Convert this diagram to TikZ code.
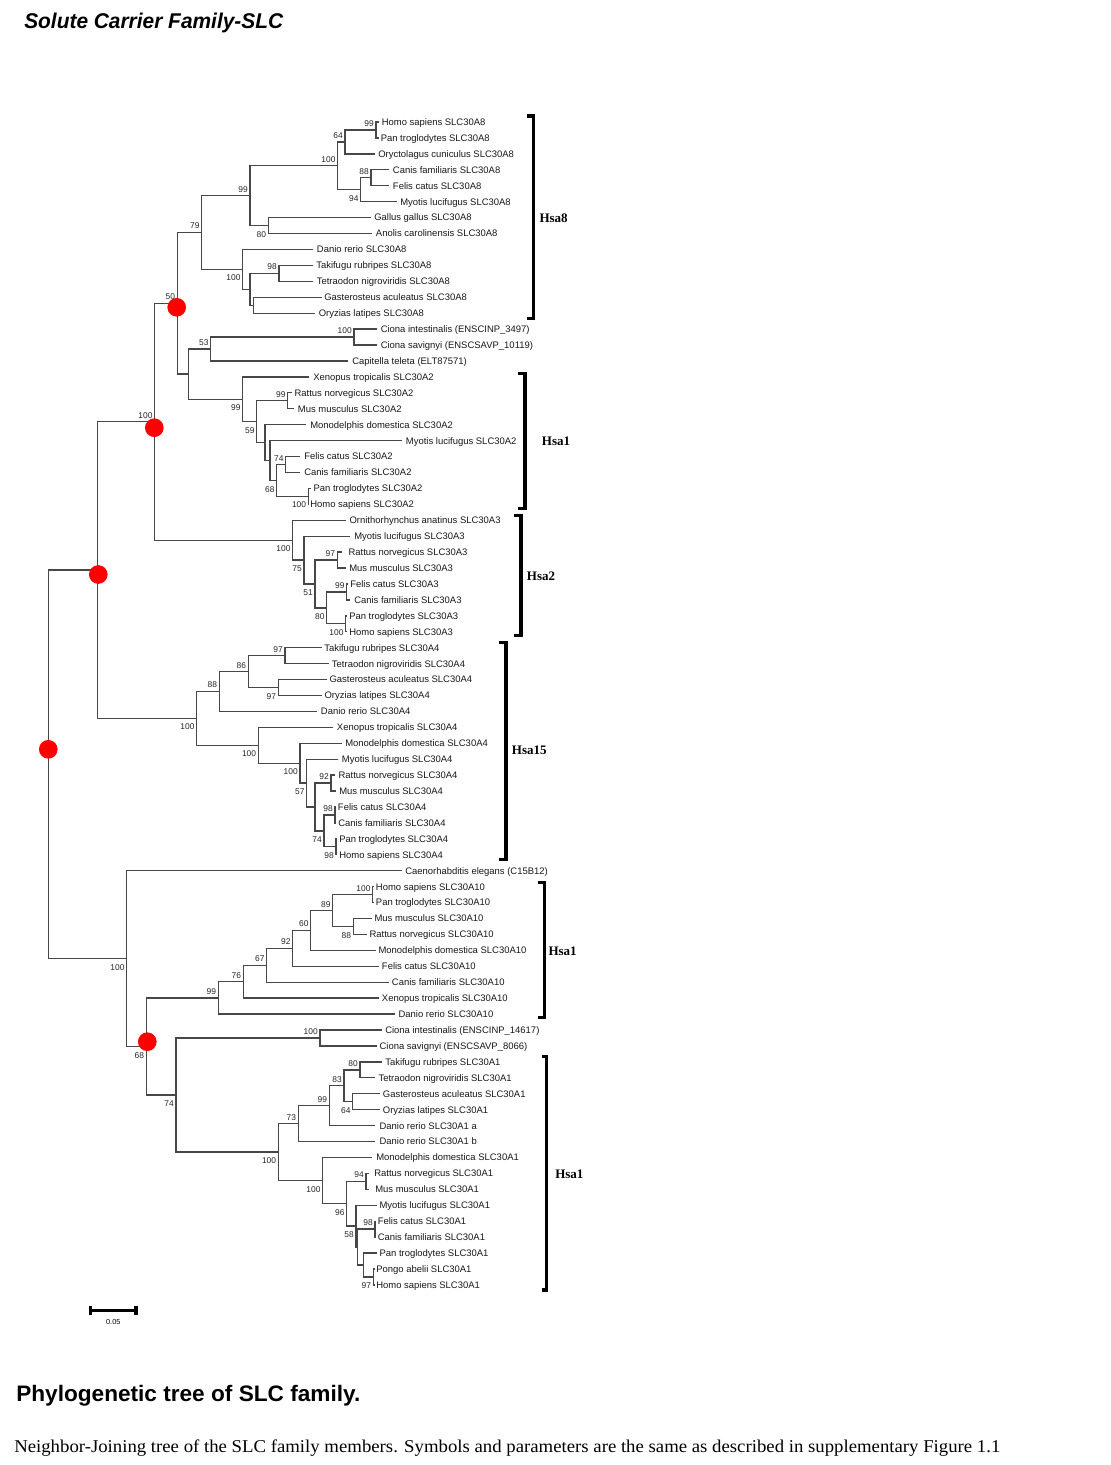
\documentclass[tikz,border=0pt]{standalone}
\usepackage{fontspec}
\usepackage{graphicx}
\setmainfont{Liberation Sans}
\newfontfamily\tnr{Liberation Serif}
\usetikzlibrary{calc}
\pgfdeclarelayer{fg}
\pgfsetlayers{main,fg}
\tikzset{
 br/.style={draw=black!72, line width=1pt},
 lf/.style={anchor=base west, inner sep=0pt, font=\fontsize{7.1}{8}\selectfont, text=black!90},
 bs/.style={inner sep=0pt, font=\fontsize{6.3}{7}\selectfont, text=black!85},
 ab/.style={anchor=south east, xshift=-1.5pt, yshift=2.4pt},
 bl/.style={anchor=north east, xshift=-1.5pt, yshift=-4.1pt},
 brk/.style={draw=black, line width=2.4pt},
 hsa/.style={anchor=base west, inner sep=0pt, font=\tnr\bfseries\fontsize{9.75}{11}\selectfont},
 reddot/.style={circle, fill=red, draw=none, inner sep=0pt, minimum size=14pt},
}
\newcommand\leaf[5]{%
 \coordinate (#1) at (#3,{122+15.93*#2});
 \node[lf] (#1t) at (#4,{125.4+15.93*#2}) {#5};}
\newcommand\inode[6]{%
 \path let \p1=($(#3)!0.5!(#4)$), \p2=(#2,0) in (\x2,\y1) coordinate (#1);
 \draw[br] (#3) -| (#1) |- (#4);
 \if\relax\detokenize{#5}\relax\else
 \begin{pgfonlayer}{fg}\node[bs,#6] (#1b) at (#1) {#5};\end{pgfonlayer}\fi}
\newcommand\cladebracket[4]{\draw[brk] (#4,#2) -- (#1,#2) -- (#1,#3) -- (#4,#3);}
\begin{document}
\begin{tikzpicture}[x=0.75pt,y=-0.75pt]
\useasboundingbox (0,0) rectangle (1111,1465);
\fill[white] (0,0) rectangle (1111,1465);
% title
\node[anchor=base west, inner sep=0pt] (title) at (24,28.3)
 {\resizebox{194.2pt}{\height}{\fontsize{16}{19}\selectfont\bfseries\itshape Solute Carrier Family-SLC}};
% leaves
\leaf{L0}{0}{379}{381.5}{Homo sapiens SLC30A8}
\leaf{L1}{1}{379}{380.5}{Pan troglodytes SLC30A8}
\leaf{L2}{2}{375}{378}{Oryctolagus cuniculus SLC30A8}
\leaf{L3}{3}{389.3}{392.7}{Canis familiaris SLC30A8}
\leaf{L4}{4}{389.3}{392.7}{Felis catus SLC30A8}
\leaf{L5}{5}{396.7}{400}{Myotis lucifugus SLC30A8}
\leaf{L6}{6}{370.7}{374}{Gallus gallus SLC30A8}
\leaf{L7}{7}{371.7}{375.7}{Anolis carolinensis SLC30A8}
\leaf{L8}{8}{313.3}{316.7}{Danio rerio SLC30A8}
\leaf{L9}{9}{313.3}{316}{Takifugu rubripes SLC30A8}
\leaf{L10}{10}{313.3}{316.5}{Tetraodon nigroviridis SLC30A8}
\leaf{L11}{11}{321.7}{324}{Gasterosteus aculeatus SLC30A8}
\leaf{L12}{12}{315}{318.5}{Oryzias latipes SLC30A8}
\leaf{L13}{13}{376.7}{380.5}{Ciona intestinalis (ENSCINP\_3497)}
\leaf{L14}{14}{376.7}{380.5}{Ciona savignyi (ENSCSAVP\_10119)}
\leaf{L15}{15}{348.3}{352}{Capitella teleta (ELT87571)}
\leaf{L16}{16}{309.3}{313}{Xenopus tropicalis SLC30A2}
\leaf{L17}{17}{291.5}{294.3}{Rattus norvegicus SLC30A2}
\leaf{L18}{18}{294.3}{297.7}{Mus musculus SLC30A2}
\leaf{L19}{19}{306}{310}{Monodelphis domestica SLC30A2}
\leaf{L20}{20}{401.7}{405.7}{Myotis lucifugus SLC30A2}
\leaf{L21}{21}{300}{304}{Felis catus SLC30A2}
\leaf{L22}{22}{300}{304}{Canis familiaris SLC30A2}
\leaf{L23}{23}{311}{313.3}{Pan troglodytes SLC30A2}
\leaf{L24}{24}{308.9}{310}{Homo sapiens SLC30A2}
\leaf{L25}{25}{346}{349.3}{Ornithorhynchus anatinus SLC30A3}
\leaf{L26}{26}{350}{354}{Myotis lucifugus SLC30A3}
\leaf{L27}{27}{342}{348.3}{Rattus norvegicus SLC30A3}
\leaf{L28}{28}{345.7}{349}{Mus musculus SLC30A3}
\leaf{L29}{29}{347.5}{350}{Felis catus SLC30A3}
\leaf{L30}{30}{350}{354}{Canis familiaris SLC30A3}
\leaf{L31}{31}{346.5}{349}{Pan troglodytes SLC30A3}
\leaf{L32}{32}{346.3}{349}{Homo sapiens SLC30A3}
\leaf{L33}{33}{321.7}{324}{Takifugu rubripes SLC30A4}
\leaf{L34}{34}{329.3}{331.7}{Tetraodon nigroviridis SLC30A4}
\leaf{L35}{35}{326.7}{329.3}{Gasterosteus aculeatus SLC30A4}
\leaf{L36}{36}{321.7}{324.3}{Oryzias latipes SLC30A4}
\leaf{L37}{37}{316.7}{320.7}{Danio rerio SLC30A4}
\leaf{L38}{38}{333.3}{336.7}{Xenopus tropicalis SLC30A4}
\leaf{L39}{39}{341.7}{345}{Monodelphis domestica SLC30A4}
\leaf{L40}{40}{338.3}{341.7}{Myotis lucifugus SLC30A4}
\leaf{L41}{41}{335}{338.3}{Rattus norvegicus SLC30A4}
\leaf{L42}{42}{336}{339}{Mus musculus SLC30A4}
\leaf{L43}{43}{335.8}{337.7}{Felis catus SLC30A4}
\leaf{L44}{44}{335.8}{338}{Canis familiaris SLC30A4}
\leaf{L45}{45}{336.8}{339}{Pan troglodytes SLC30A4}
\leaf{L46}{46}{336.8}{339}{Homo sapiens SLC30A4}
\leaf{L47}{47}{401.7}{405}{Caenorhabditis elegans (C15B12)}
\leaf{L48}{48}{373.7}{375.7}{Homo sapiens SLC30A10}
\leaf{L49}{49}{373.7}{375.7}{Pan troglodytes SLC30A10}
\leaf{L50}{50}{371.7}{374.3}{Mus musculus SLC30A10}
\leaf{L51}{51}{366.7}{369.3}{Rattus norvegicus SLC30A10}
\leaf{L52}{52}{376}{378.3}{Monodelphis domestica SLC30A10}
\leaf{L53}{53}{379}{381.7}{Felis catus SLC30A10}
\leaf{L54}{54}{389.3}{391.7}{Canis familiaris SLC30A10}
\leaf{L55}{55}{379.3}{381.7}{Xenopus tropicalis SLC30A10}
\leaf{L56}{56}{395}{398.3}{Danio rerio SLC30A10}
\leaf{L57}{57}{381.7}{385}{Ciona intestinalis (ENSCINP\_14617)}
\leaf{L58}{58}{376.7}{379.3}{Ciona savignyi (ENSCSAVP\_8066)}
\leaf{L59}{59}{381.7}{385}{Takifugu rubripes SLC30A1}
\leaf{L60}{60}{375}{378.3}{Tetraodon nigroviridis SLC30A1}
\leaf{L61}{61}{380}{382.7}{Gasterosteus aculeatus SLC30A1}
\leaf{L62}{62}{380}{382.7}{Oryzias latipes SLC30A1}
\leaf{L63}{63}{375}{379.3}{Danio rerio SLC30A1 a}
\leaf{L64}{64}{375}{379.3}{Danio rerio SLC30A1 b}
\leaf{L65}{65}{371.7}{376}{Monodelphis domestica SLC30A1}
\leaf{L66}{66}{369.3}{374}{Rattus norvegicus SLC30A1}
\leaf{L67}{67}{369.3}{375}{Mus musculus SLC30A1}
\leaf{L68}{68}{376.7}{379.3}{Myotis lucifugus SLC30A1}
\leaf{L69}{69}{375.8}{377.5}{Felis catus SLC30A1}
\leaf{L70}{70}{375.8}{377.5}{Canis familiaris SLC30A1}
\leaf{L71}{71}{377}{379.3}{Pan troglodytes SLC30A1}
\leaf{L72}{72}{374.5}{376}{Pongo abelii SLC30A1}
\leaf{L73}{73}{374.5}{376}{Homo sapiens SLC30A1}
% internal nodes: name, x, child1, child2, bootstrap, label position
\inode{n1}{376}{L0}{L1}{99}{ab}
\inode{n2}{345}{n1}{L2}{64}{ab}
\inode{n3}{371}{L3}{L4}{88}{ab}
\inode{n4}{360.7}{n3}{L5}{94}{bl}
\inode{n5}{337.7}{n2}{n4}{100}{ab}
\inode{n6}{268.3}{L6}{L7}{80}{bl}
\inode{n7}{250}{n5}{n6}{99}{ab}
\inode{n8}{279}{L9}{L10}{98}{ab}
\inode{n9}{253.3}{L11}{L12}{}{}
\inode{n10}{250}{n8}{n9}{}{}
\inode{n11}{242.7}{L8}{n10}{100}{bl}
\inode{n12}{201.7}{n7}{n11}{79}{ab}
\inode{n13}{354}{L13}{L14}{100}{ab}
\inode{n14}{210.7}{n13}{L15}{53}{ab}
\inode{n15}{287.7}{L17}{L18}{99}{ab}
\inode{n16}{285.7}{L21}{L22}{74}{ab}
\inode{n17}{308.3}{L23}{L24}{100}{bl}
\inode{n18}{276.7}{n16}{n17}{68}{bl}
\inode{n19}{270}{L20}{n18}{}{}
\inode{n20}{265}{L19}{n19}{}{}
\inode{n21}{256.7}{n15}{n20}{59}{bl}
\inode{n22}{242.7}{L16}{n21}{99}{bl}
\inode{n23}{188.3}{n14}{n22}{}{}
\inode{n24}{177.3}{n12}{n23}{50}{ab}
\inode{n25}{337.3}{L27}{L28}{97}{ab}
\inode{n26}{346.7}{L29}{L30}{99}{ab}
\inode{n27}{345.7}{L31}{L32}{100}{bl}
\inode{n28}{326.7}{n26}{n27}{80}{bl}
\inode{n29}{315}{n25}{n28}{51}{bl}
\inode{n30}{304}{L26}{n29}{75}{bl}
\inode{n31}{292.7}{L25}{n30}{100}{bl}
\inode{n32}{154.7}{n24}{n31}{100}{ab}
\inode{n33}{285}{L33}{L34}{97}{ab}
\inode{n34}{278.3}{L35}{L36}{97}{bl}
\inode{n35}{248.3}{n33}{n34}{86}{ab}
\inode{n36}{219.3}{n35}{L37}{88}{ab}
\inode{n37}{331}{L41}{L42}{92}{ab}
\inode{n38}{335}{L43}{L44}{98}{ab}
\inode{n39}{336}{L45}{L46}{98}{bl}
\inode{n40}{324}{n38}{n39}{74}{bl}
\inode{n41}{315}{n37}{n40}{}{}
\inode{n42}{306.7}{L40}{n41}{57}{bl}
\inode{n43}{300}{L39}{n42}{100}{bl}
\inode{n44}{258.3}{L38}{n43}{100}{bl}
\inode{n45}{196.7}{n36}{n44}{100}{bl}
\inode{n46}{97.7}{n32}{n45}{}{}
\inode{n47}{372.7}{L48}{L49}{100}{ab}
\inode{n48}{353.3}{L50}{L51}{88}{bl}
\inode{n49}{332.7}{n47}{n48}{89}{ab}
\inode{n50}{310.7}{n49}{L52}{60}{ab}
\inode{n51}{292.7}{n50}{L53}{92}{ab}
\inode{n52}{266.7}{n51}{L54}{67}{ab}
\inode{n53}{243.3}{n52}{L55}{76}{ab}
\inode{n54}{218.3}{n53}{L56}{99}{ab}
\inode{n55}{320}{L57}{L58}{100}{ab}
\inode{n56}{360}{L59}{L60}{80}{ab}
\inode{n57}{352.7}{L61}{L62}{64}{bl}
\inode{n58}{344}{n56}{n57}{83}{ab}
\inode{n59}{329.3}{n58}{L63}{99}{ab}
\inode{n60}{298.3}{n59}{L64}{73}{ab}
\inode{n61}{366}{L66}{L67}{94}{ab}
\inode{n62}{375}{L69}{L70}{98}{ab}
\inode{n63}{373.3}{L72}{L73}{97}{bl}
\inode{n64}{363.3}{L71}{n63}{}{}
\inode{n65}{357.3}{n62}{n64}{}{}
\inode{n66}{356}{L68}{n65}{58}{bl}
\inode{n67}{346.7}{n61}{n66}{96}{bl}
\inode{n68}{322.7}{L65}{n67}{100}{bl}
\inode{n69}{278.3}{n60}{n68}{100}{bl}
\inode{n70}{176}{n55}{n69}{74}{bl}
\inode{n71}{146.3}{n54}{n70}{68}{bl}
\inode{n72}{126.7}{L47}{n71}{100}{bl}
\inode{n73}{48.3}{n46}{n72}{}{}
% red dots
\node[reddot] (d1) at (176.7,307.3) {};
\node[reddot] (d2) at (154.3,427.7) {};
\node[reddot] (d3) at (98.3,574.5) {};
\node[reddot] (d4) at (48.3,749.3) {};
\node[reddot] (d5) at (147.3,1041.7) {};
% brackets
\cladebracket{533.3}{116}{318.3}{526.7}
\cladebracket{525}{373.3}{508.3}{518.3}
\cladebracket{521}{515.7}{635.7}{514.3}
\cladebracket{506}{642.7}{859.3}{499.3}
\cladebracket{544.3}{882.7}{1017.3}{537.7}
\cladebracket{546.7}{1056.7}{1290}{541.7}
\node[hsa] (h1) at (539.3,222.6) {Hsa8};
\node[hsa] (h2) at (541.7,445.3) {Hsa1};
\node[hsa] (h3) at (526.7,580.3) {Hsa2};
\node[hsa] (h4) at (511.7,754.3) {Hsa15};
\node[hsa] (h5) at (548.3,955) {Hsa1};
\node[hsa] (h6) at (555,1178.3) {Hsa1};
% scale bar
\coordinate (s1) at (90.7,1310.5);
\coordinate (s2) at (136,1310.5);
\draw[line width=2.3pt] (s1) -- (s2);
\draw[line width=2.3pt] ([yshift=3.4pt]s1) -- ([yshift=-3.4pt]s1);
\draw[line width=2.3pt] ([yshift=3.4pt]s2) -- ([yshift=-3.4pt]s2);
\node[inner sep=0pt, font=\fontsize{5.5}{6}\selectfont] (sl) at (113.3,1322) {0.05};
% captions
\node[anchor=base west, inner sep=0pt] (cap1) at (16,1401)
 {\resizebox{258pt}{\height}{\fontsize{16.8}{20}\selectfont\bfseries Phylogenetic tree of SLC family.}};
\node[anchor=base west, inner sep=0pt] (cap2) at (14,1452)
 {\resizebox{739.5pt}{\height}{\tnr\fontsize{13.5}{16}\selectfont Neighbor-Joining tree of the SLC family members. Symbols and parameters are the same as described in supplementary Figure 1.1}};
\end{tikzpicture}
\end{document}
